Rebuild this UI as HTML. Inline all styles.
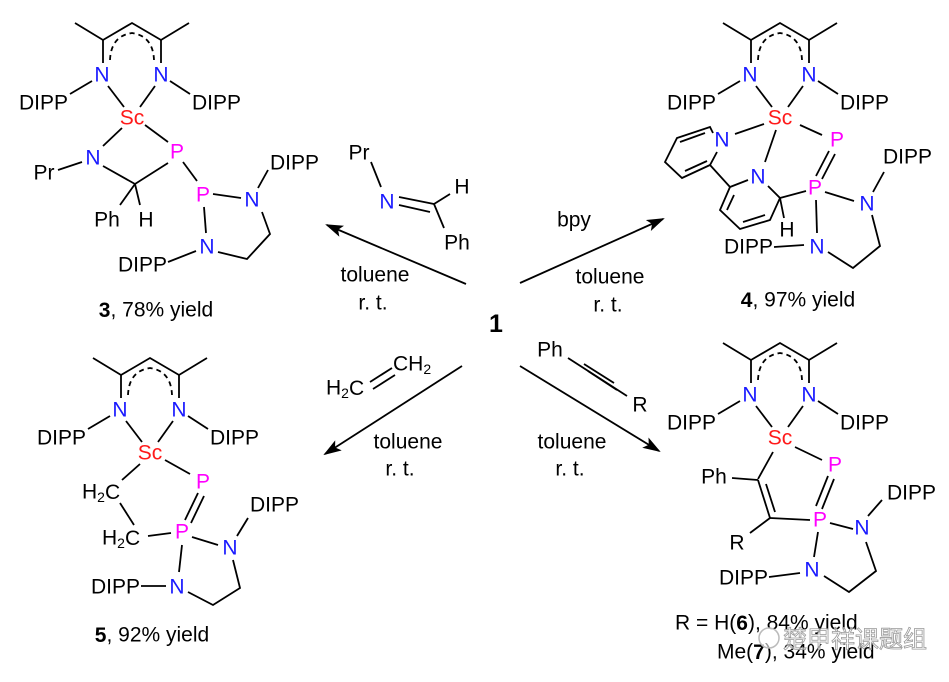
<!DOCTYPE html>
<html><head><meta charset="utf-8"><style>
html,body{margin:0;padding:0;background:#fff;}
svg{display:block;}
text{font-family:"Liberation Sans",sans-serif;font-size:21px;dominant-baseline:central;}
.N{fill:#1a1aff}.P{fill:#ff00ff}.S{fill:#ff1a1a}
line,polyline,path{stroke:#000;stroke-width:1.8;fill:none;}
</style></head><body>
<svg width="949" height="682" viewBox="0 0 949 682" xmlns="http://www.w3.org/2000/svg">
<defs>
<marker id="ah" markerWidth="18" markerHeight="12" refX="16" refY="6" orient="auto" markerUnits="userSpaceOnUse">
<path d="M0,0 L18,6 L0,12 L4,6 Z" style="fill:#000;stroke:none"/>
</marker>
</defs>

<g transform="translate(132,118)">
<polyline points="-57,-95 -29,-78 0,-95 29,-78 57,-95"/><line x1="-29" y1="-78" x2="-29" y2="-55"/><line x1="29" y1="-78" x2="29" y2="-55"/>
<path d="M-22,-58 Q-21,-82 0,-85 Q21,-82 22,-58" stroke-dasharray="5,4"/>
<text x="-30" y="-43" text-anchor="middle" class="N">N</text><text x="29" y="-43" text-anchor="middle" class="N">N</text>
<line x1="-40" y1="-37" x2="-62" y2="-24"/><line x1="38" y1="-37" x2="58" y2="-24"/>
<text x="-64" y="-15" text-anchor="end">DIPP</text><text x="60" y="-15">DIPP</text>
<line x1="-24" y1="-32" x2="-8" y2="-11"/><line x1="23" y1="-32" x2="8" y2="-11"/>
<text x="0" y="0" text-anchor="middle" class="S">Sc</text></g>
<g transform="translate(780,118)">
<polyline points="-57,-95 -29,-78 0,-95 29,-78 57,-95"/><line x1="-29" y1="-78" x2="-29" y2="-55"/><line x1="29" y1="-78" x2="29" y2="-55"/>
<path d="M-22,-58 Q-21,-82 0,-85 Q21,-82 22,-58" stroke-dasharray="5,4"/>
<text x="-30" y="-43" text-anchor="middle" class="N">N</text><text x="29" y="-43" text-anchor="middle" class="N">N</text>
<line x1="-40" y1="-37" x2="-62" y2="-24"/><line x1="38" y1="-37" x2="58" y2="-24"/>
<text x="-64" y="-15" text-anchor="end">DIPP</text><text x="60" y="-15">DIPP</text>
<line x1="-24" y1="-32" x2="-8" y2="-11"/><line x1="23" y1="-32" x2="8" y2="-11"/>
<text x="0" y="0" text-anchor="middle" class="S">Sc</text></g>
<g transform="translate(150,453)">
<polyline points="-57,-95 -29,-78 0,-95 29,-78 57,-95"/><line x1="-29" y1="-78" x2="-29" y2="-55"/><line x1="29" y1="-78" x2="29" y2="-55"/>
<path d="M-22,-58 Q-21,-82 0,-85 Q21,-82 22,-58" stroke-dasharray="5,4"/>
<text x="-30" y="-43" text-anchor="middle" class="N">N</text><text x="29" y="-43" text-anchor="middle" class="N">N</text>
<line x1="-40" y1="-37" x2="-62" y2="-24"/><line x1="38" y1="-37" x2="58" y2="-24"/>
<text x="-64" y="-15" text-anchor="end">DIPP</text><text x="60" y="-15">DIPP</text>
<line x1="-24" y1="-32" x2="-8" y2="-11"/><line x1="23" y1="-32" x2="8" y2="-11"/>
<text x="0" y="0" text-anchor="middle" class="S">Sc</text></g>
<g transform="translate(780,438)">
<polyline points="-57,-95 -29,-78 0,-95 29,-78 57,-95"/><line x1="-29" y1="-78" x2="-29" y2="-55"/><line x1="29" y1="-78" x2="29" y2="-55"/>
<path d="M-22,-58 Q-21,-82 0,-85 Q21,-82 22,-58" stroke-dasharray="5,4"/>
<text x="-30" y="-43" text-anchor="middle" class="N">N</text><text x="29" y="-43" text-anchor="middle" class="N">N</text>
<line x1="-40" y1="-37" x2="-62" y2="-24"/><line x1="38" y1="-37" x2="58" y2="-24"/>
<text x="-64" y="-15" text-anchor="end">DIPP</text><text x="60" y="-15">DIPP</text>
<line x1="-24" y1="-32" x2="-8" y2="-11"/><line x1="23" y1="-32" x2="8" y2="-11"/>
<text x="0" y="0" text-anchor="middle" class="S">Sc</text></g>

<!-- compound 3 -->
<line x1="145" y1="125" x2="168" y2="142"/>
<text x="177" y="152" text-anchor="middle" class="P">P</text>
<line x1="122" y1="128" x2="103" y2="146"/>
<text x="93" y="158" text-anchor="middle" class="N">N</text>
<text x="44" y="173" text-anchor="middle">Pr</text>
<line x1="58" y1="170" x2="82" y2="162"/>
<polyline points="103,166 135,184 168,163"/>
<line x1="135" y1="184" x2="120" y2="205"/><line x1="135" y1="184" x2="140" y2="205"/>
<text x="107" y="220" text-anchor="middle">Ph</text><text x="146" y="220" text-anchor="middle">H</text>
<line x1="183" y1="162" x2="197" y2="181"/>
<text x="203" y="195" text-anchor="middle" class="P">P</text>
<line x1="213" y1="194" x2="241" y2="198"/>
<text x="252" y="200" text-anchor="middle" class="N">N</text>
<line x1="258" y1="188" x2="268" y2="170"/>
<text x="270" y="163">DIPP</text>
<line x1="204" y1="207" x2="206" y2="233"/>
<text x="207" y="247" text-anchor="middle" class="N">N</text>
<polyline points="218,252 247,259 270,234 262,212"/>
<text x="167" y="265" text-anchor="end">DIPP</text>
<line x1="168" y1="262" x2="196" y2="251"/>
<text x="156" y="310" text-anchor="middle"><tspan font-weight="bold">3</tspan>, 78% yield</text>

<!-- compound 4 -->
<line x1="800" y1="125" x2="822" y2="135"/>
<text x="837" y="140" text-anchor="middle" class="P">P</text>
<line x1="764" y1="124" x2="735" y2="134"/>
<text x="722" y="140" text-anchor="middle" class="N">N</text>
<line x1="776" y1="130" x2="765" y2="162"/>
<text x="758" y="177" text-anchor="middle" class="N">N</text>
<polyline points="713,133 710,127 677,138 665,162 682,178 710,165 717,152"/>
<line x1="705" y1="133" x2="680" y2="142"/><line x1="685" y1="171" x2="707" y2="161"/>
<line x1="710" y1="165" x2="730" y2="187"/>
<polyline points="748,180 730,187 720,210 740,229 770,220 780,198 768,186"/>
<line x1="734" y1="195" x2="727" y2="210"/><line x1="743" y1="222" x2="765" y2="215"/>
<line x1="780" y1="198" x2="806" y2="191"/>
<line x1="780" y1="198" x2="784" y2="218"/>
<text x="787" y="230" text-anchor="middle">H</text>
<line x1="829" y1="151" x2="816" y2="176"/><line x1="835" y1="154" x2="822" y2="179"/>
<text x="815" y="188" text-anchor="middle" class="P">P</text>
<line x1="825" y1="192" x2="854" y2="201"/>
<text x="867" y="204" text-anchor="middle" class="N">N</text>
<line x1="873" y1="192" x2="884" y2="172"/>
<text x="883" y="157">DIPP</text>
<line x1="816" y1="200" x2="817" y2="233"/>
<text x="817" y="247" text-anchor="middle" class="N">N</text>
<polyline points="828,252 853,268 880,246 872,215"/>
<text x="773" y="247" text-anchor="end">DIPP</text>
<line x1="774" y1="247" x2="804" y2="245"/>
<text x="798" y="300" text-anchor="middle"><tspan font-weight="bold">4</tspan>, 97% yield</text>

<!-- compound 5 -->
<line x1="165" y1="460" x2="190" y2="474"/>
<text x="203" y="482" text-anchor="middle" class="P">P</text>
<line x1="140" y1="464" x2="122" y2="480"/>
<text x="82" y="492">H<tspan font-size="14" dy="5">2</tspan><tspan dy="-5">C</tspan></text>
<line x1="120" y1="503" x2="134" y2="525"/>
<text x="102" y="538">H<tspan font-size="14" dy="5">2</tspan><tspan dy="-5">C</tspan></text>
<line x1="148" y1="536" x2="171" y2="533"/>
<line x1="198" y1="493" x2="185" y2="520"/><line x1="204" y1="496" x2="191" y2="523"/>
<text x="182" y="532" text-anchor="middle" class="P">P</text>
<line x1="192" y1="537" x2="218" y2="545"/>
<text x="230" y="548" text-anchor="middle" class="N">N</text>
<line x1="237" y1="536" x2="248" y2="518"/>
<text x="250" y="505">DIPP</text>
<line x1="182" y1="545" x2="179" y2="572"/>
<text x="177" y="587" text-anchor="middle" class="N">N</text>
<polyline points="188,592 213,605 240,588 233,560"/>
<text x="140" y="587" text-anchor="end">DIPP</text>
<line x1="141" y1="586" x2="166" y2="586"/>
<text x="152" y="635" text-anchor="middle"><tspan font-weight="bold">5</tspan>, 92% yield</text>

<!-- compound 6 -->
<line x1="795" y1="447" x2="822" y2="460"/>
<text x="835" y="465" text-anchor="middle" class="P">P</text>
<line x1="773" y1="452" x2="758" y2="479"/>
<text x="714" y="477" text-anchor="middle">Ph</text>
<line x1="732" y1="478" x2="758" y2="480"/>
<line x1="758" y1="480" x2="770" y2="518"/><line x1="766" y1="484" x2="775" y2="512"/>
<line x1="770" y1="518" x2="750" y2="533"/>
<text x="737" y="543" text-anchor="middle">R</text>
<line x1="770" y1="518" x2="810" y2="520"/>
<line x1="828" y1="476" x2="816" y2="506"/><line x1="834" y1="479" x2="822" y2="509"/>
<text x="820" y="520" text-anchor="middle" class="P">P</text>
<line x1="830" y1="523" x2="853" y2="529"/>
<text x="862" y="528" text-anchor="middle" class="N">N</text>
<line x1="868" y1="516" x2="882" y2="500"/>
<text x="887" y="493">DIPP</text>
<line x1="818" y1="532" x2="814" y2="557"/>
<text x="812" y="570" text-anchor="middle" class="N">N</text>
<polyline points="824,576 849,592 876,571 866,542"/>
<text x="768" y="578" text-anchor="end">DIPP</text>
<line x1="769" y1="577" x2="800" y2="573"/>
<text x="675" y="623">R = H(<tspan font-weight="bold">6</tspan>), 84% yield</text>
<text x="717" y="652">Me(<tspan font-weight="bold">7</tspan>), 34% yield</text>
<circle cx="769" cy="638" r="10" style="fill:#fff;fill-opacity:0.6;stroke:#bbb;stroke-width:1.5"/>
<text x="783" y="640" style="font-family:'Liberation Sans','Noto Sans CJK SC',sans-serif;font-size:24px;fill:#fff;fill-opacity:0.6;stroke:#999;stroke-width:0.8">楚甲祥课题组</text>

<!-- center -->
<text x="496" y="324" text-anchor="middle" style="font-weight:bold;font-size:25px">1</text>
<line x1="466" y1="284" x2="327" y2="225" marker-end="url(#ah)"/>
<line x1="520" y1="283" x2="663" y2="219" marker-end="url(#ah)"/>
<line x1="462" y1="366" x2="325" y2="454" marker-end="url(#ah)"/>
<line x1="520" y1="366" x2="659" y2="451" marker-end="url(#ah)"/>
<text x="375" y="275" text-anchor="middle">toluene</text><text x="373" y="303" text-anchor="middle">r. t.</text>
<text x="610" y="277" text-anchor="middle">toluene</text><text x="608" y="305" text-anchor="middle">r. t.</text>
<text x="408" y="442" text-anchor="middle">toluene</text><text x="400" y="469" text-anchor="middle">r. t.</text>
<text x="572" y="442" text-anchor="middle">toluene</text><text x="570" y="469" text-anchor="middle">r. t.</text>
<text x="574" y="220" text-anchor="middle">bpy</text>
<text x="359" y="153" text-anchor="middle">Pr</text>
<line x1="371" y1="162" x2="381" y2="187"/>
<text x="387" y="202" text-anchor="middle" class="N">N</text>
<line x1="399" y1="197" x2="434" y2="204"/><line x1="399" y1="205" x2="430" y2="212"/>
<line x1="434" y1="204" x2="450" y2="194"/>
<text x="462" y="187" text-anchor="middle">H</text>
<line x1="434" y1="204" x2="444" y2="228"/>
<text x="457" y="243" text-anchor="middle">Ph</text>
<text x="326" y="388">H<tspan font-size="14" dy="5">2</tspan><tspan dy="-5">C</tspan></text>
<line x1="370" y1="382" x2="392" y2="368"/><line x1="373" y1="389" x2="395" y2="375"/>
<text x="393" y="364">CH<tspan font-size="14" dy="5">2</tspan></text>
<text x="550" y="350" text-anchor="middle">Ph</text>
<line x1="568" y1="358" x2="627" y2="396"/><line x1="584" y1="364" x2="614" y2="383"/><line x1="588" y1="371" x2="617" y2="390"/>
<text x="640" y="405" text-anchor="middle">R</text>
</svg>
</body></html>
